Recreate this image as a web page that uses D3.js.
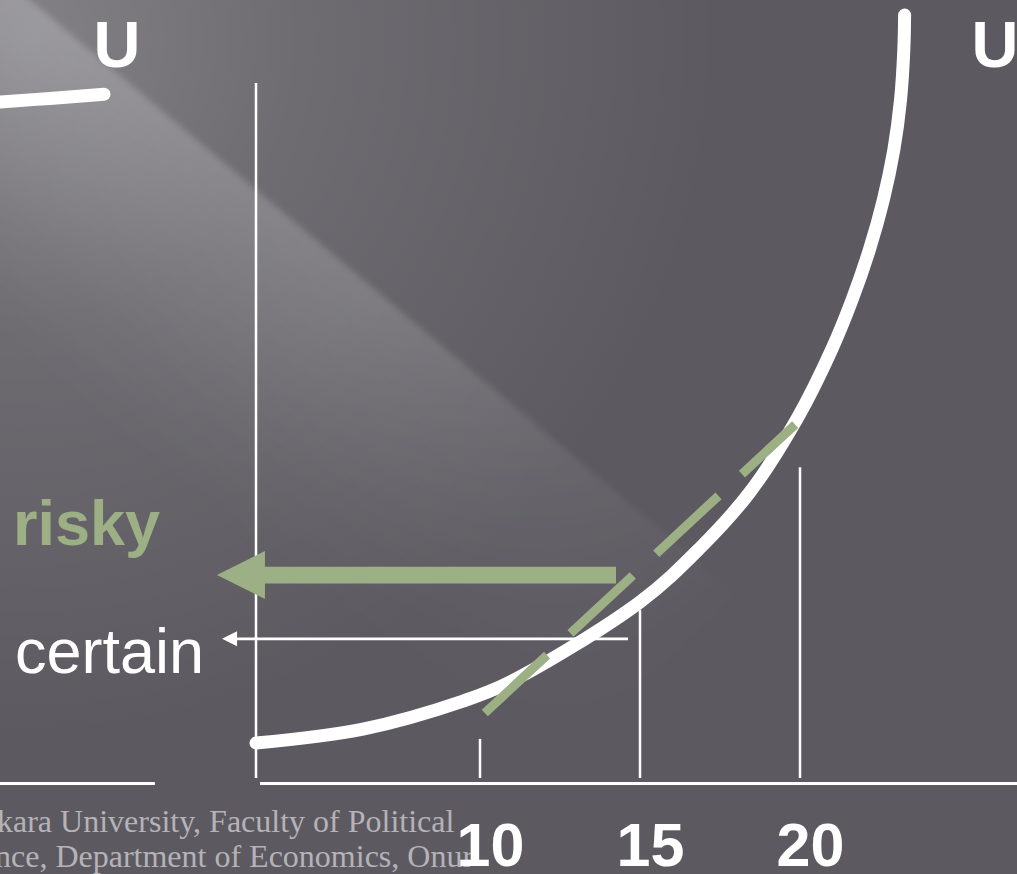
<!DOCTYPE html>
<html>
<head>
<meta charset="utf-8">
<script src="https://cdn.jsdelivr.net/npm/d3@7"></script>
<style>
  html, body { margin: 0; padding: 0; background: #5c5a60; overflow: hidden; }
  svg { display: block; }
</style>
</head>
<body>
<svg id="chart" width="1017" height="874"></svg>
<script>
// Convex utility U(W) of a risk lover: the chord between W=10 and W=20 lies above the curve,
// so the expected utility of the gamble beats the utility of the certain amount.

// wealth axis ticks
const tickValues = [10, 15, 20];
const tickLabels = ["10", "15", "20"];
// height (utility) reached by the vertical drop line at each tick
const dropTops = [6.3, 24.7, 45.1];

// utility curve, main panel
const wealth  = [3.0, 6.344, 9.469, 10.938, 15.0, 16.875, 18.438, 19.938, 20.984, 21.625, 22.166, 22.603, 22.931, 23.141, 23.244, 23.269];
const utility = [5.71, 7.71, 11.71, 14.43, 25.86, 33.57, 41.57, 52.29, 61.86, 69.0, 76.14, 83.29, 90.43, 97.57, 104.71, 109.71];

// dashed chord between the two outcomes of the gamble
const chordWealth   = [10.15, 19.85];
const chordUtility  = [10.0, 51.2];

// expected utility of the risky option and utility of the certain option
const riskyUtility   = 29.7;
const riskyFrom      = 14.25;
const riskyTip       = 1.78;
const certainUtility = 20.6;
const certainFrom    = 14.625;
const certainTip     = 1.94;

// neighbouring panel (concave curve) that continues off the left edge
const leftWealth  = [19.0, 20.0, 21.56, 23.25];
const leftUtility = [97.0, 97.3, 97.8, 98.4];
const leftAxisEnd = 24.84;

const W = 1017, H = 874;
const svg = d3.select("#chart");
const defs = svg.append("defs");

// ---------- background ----------
svg.append("rect").attr("width", W).attr("height", H).attr("fill", "#5c5a60");

const glow = defs.append("radialGradient").attr("id", "glow")
  .attr("gradientUnits", "userSpaceOnUse").attr("cx", 20).attr("cy", 40).attr("r", 700);
glow.append("stop").attr("offset", 0).attr("stop-color", "#fff").attr("stop-opacity", 0.24);
glow.append("stop").attr("offset", 0.4).attr("stop-color", "#fff").attr("stop-opacity", 0.11);
glow.append("stop").attr("offset", 1).attr("stop-color", "#fff").attr("stop-opacity", 0);
svg.append("rect").attr("width", W).attr("height", H).attr("fill", "url(#glow)");

// diagonal light beam
const beamAcross = defs.append("linearGradient").attr("id", "beamAcross")
  .attr("x1", 0).attr("y1", 0).attr("x2", 0).attr("y2", 1);
beamAcross.append("stop").attr("offset", 0).attr("stop-color", "#fff").attr("stop-opacity", 0.22);
beamAcross.append("stop").attr("offset", 0.3).attr("stop-color", "#fff").attr("stop-opacity", 0.15);
beamAcross.append("stop").attr("offset", 0.7).attr("stop-color", "#fff").attr("stop-opacity", 0.05);
beamAcross.append("stop").attr("offset", 1).attr("stop-color", "#fff").attr("stop-opacity", 0);

const beamAlong = defs.append("linearGradient").attr("id", "beamAlong")
  .attr("x1", 0).attr("y1", 0).attr("x2", 1).attr("y2", 0);
beamAlong.append("stop").attr("offset", 0).attr("stop-color", "#fff").attr("stop-opacity", 1);
beamAlong.append("stop").attr("offset", 0.5).attr("stop-color", "#fff").attr("stop-opacity", 0.75);
beamAlong.append("stop").attr("offset", 1).attr("stop-color", "#fff").attr("stop-opacity", 0);

const mask = defs.append("mask").attr("id", "beamMask").attr("maskContentUnits", "userSpaceOnUse");
mask.append("rect").attr("x", -60).attr("y", -20).attr("width", 1000).attr("height", 320).attr("fill", "url(#beamAlong)");

defs.append("filter").attr("id", "soft").attr("x", "-20%").attr("y", "-20%").attr("width", "140%").attr("height", "140%")
  .append("feGaussianBlur").attr("stdDeviation", 3);

svg.append("g").attr("transform", "translate(30,0) rotate(40)")
  .append("rect").attr("x", -60).attr("y", 0).attr("width", 1000).attr("height", 280)
  .attr("fill", "url(#beamAcross)").attr("mask", "url(#beamMask)").attr("filter", "url(#soft)");

// ---------- scales ----------
const x = d3.scaleLinear().domain([10, 20]).range([480, 800]);
const y = d3.scaleLinear().domain([0, 100]).range([783, 83]);
const xLeft = d3.scaleLinear().domain([10, 20]).range([-320, 0]);

const white = "#ffffff";
const green = "#9caf85";
const sans = "'Liberation Sans', Arial, Helvetica, sans-serif";

// ---------- axes ----------
svg.append("line")
  .attr("x1", x(3)).attr("x2", x(3))
  .attr("y1", y(100)).attr("y2", y(0) - 5)
  .attr("stroke", white).attr("stroke-width", 2.5);

svg.append("line")
  .attr("x1", x(3) + 4).attr("x2", W + 5)
  .attr("y1", y(0) + 0.5).attr("y2", y(0) + 0.5)
  .attr("stroke", white).attr("stroke-width", 3);

// left panel axis
svg.append("line")
  .attr("x1", xLeft(19)).attr("x2", xLeft(leftAxisEnd))
  .attr("y1", y(0) + 0.5).attr("y2", y(0) + 0.5)
  .attr("stroke", white).attr("stroke-width", 3);

// drop lines at the ticks
svg.append("g").selectAll("line")
  .data(tickValues.map((v, i) => ({ v, top: dropTops[i] })))
  .join("line")
  .attr("x1", d => x(d.v)).attr("x2", d => x(d.v))
  .attr("y1", d => y(d.top)).attr("y2", y(0) - 5)
  .attr("stroke", white).attr("stroke-width", 2.5);

// ---------- curves ----------
const line = d3.line().x(d => x(d[0])).y(d => y(d[1])).curve(d3.curveCatmullRom.alpha(0.5));
const lineLeft = d3.line().x(d => xLeft(d[0])).y(d => y(d[1])).curve(d3.curveCatmullRom.alpha(0.5));

svg.append("path")
  .attr("d", lineLeft(leftWealth.map((w, i) => [w, leftUtility[i]])))
  .attr("fill", "none").attr("stroke", white).attr("stroke-width", 13).attr("stroke-linecap", "round");

svg.append("path")
  .attr("d", line(wealth.map((w, i) => [w, utility[i]])))
  .attr("fill", "none").attr("stroke", white).attr("stroke-width", 13).attr("stroke-linecap", "round");

// dashed chord, drawn over the curve
svg.append("path")
  .attr("d", d3.line().x(d => x(d[0])).y(d => y(d[1]))(chordWealth.map((w, i) => [w, chordUtility[i]])))
  .attr("fill", "none").attr("stroke", green).attr("stroke-width", 9)
  .attr("stroke-dasharray", "85 32");

// ---------- arrows ----------
function arrow(fromW, tipW, u, color, width, headLen, headHalf) {
  const yy = y(u), tip = x(tipW), base = tip + headLen;
  svg.append("line")
    .attr("x1", x(fromW)).attr("x2", base - 1)
    .attr("y1", yy).attr("y2", yy)
    .attr("stroke", color).attr("stroke-width", width);
  svg.append("path")
    .attr("d", `M${tip},${yy}L${base},${yy - headHalf}L${base},${yy + headHalf}Z`)
    .attr("fill", color);
}
arrow(riskyFrom, riskyTip, riskyUtility, green, 16.7, 48, 24);
arrow(certainFrom, certainTip, certainUtility, white, 2.7, 15, 7.5);

// ---------- labels ----------
svg.append("text").attr("x", 13).attr("y", 545).text("risky")
  .attr("fill", green).style("font-family", sans).style("font-size", "63px").style("font-weight", "bold");

svg.append("text").attr("x", 15).attr("y", 673).text("certain")
  .attr("fill", white).style("font-family", sans).style("font-size", "63px");

svg.selectAll("text.ulabel")
  .data([117, 995])
  .join("text").attr("class", "ulabel")
  .attr("x", d => d).attr("y", 67).attr("text-anchor", "middle").text("U")
  .attr("fill", white).style("font-family", sans).style("font-size", "65px").style("font-weight", "bold");

// footer credit
const serif = "'Liberation Serif', 'Times New Roman', Times, serif";
svg.append("text").attr("x", -3).attr("y", 832).text("kara University, Faculty of Political")
  .attr("fill", "#b5b3b8").style("font-family", serif).style("font-size", "32px");
svg.append("text").attr("x", -5).attr("y", 867).text("nce, Department of Economics, Onur")
  .attr("fill", "#b5b3b8").style("font-family", serif).style("font-size", "32px");

// tick labels, drawn over the footer text
const xAxis = d3.axisBottom(x).tickValues(tickValues)
  .tickFormat((d, i) => tickLabels[i]).tickSize(0).tickPadding(40);
const gx = svg.append("g").attr("transform", `translate(0,${y(0)})`).call(xAxis);
gx.select(".domain").remove();
gx.selectAll("text")
  .attr("dx", 10)
  .attr("fill", white)
  .style("font-family", sans).style("font-size", "61px").style("font-weight", "bold");
</script>
</body>
</html>
